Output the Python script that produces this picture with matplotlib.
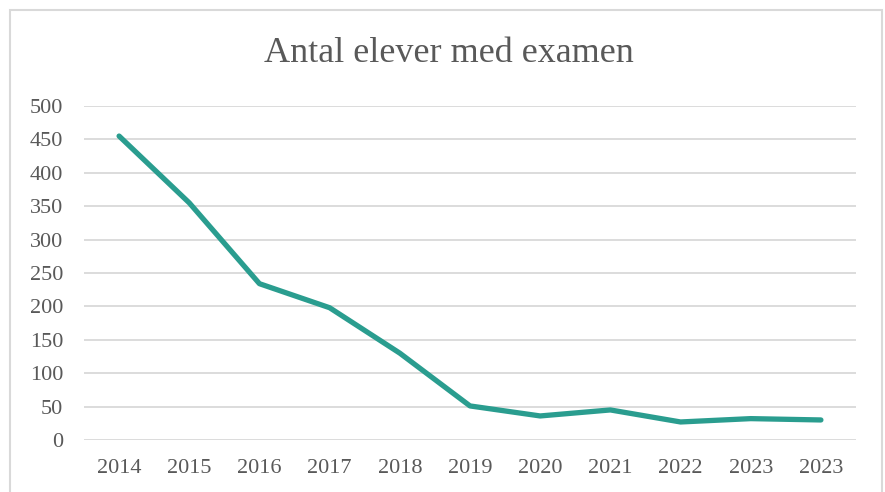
import matplotlib
matplotlib.use("Agg")
import matplotlib.pyplot as plt
from matplotlib.patches import Rectangle

# data
years = ["2014", "2015", "2016", "2017", "2018", "2019", "2020", "2021", "2022", "2023", "2023"]
elever = [455, 355, 234, 198, 130, 51, 36, 45, 27, 32, 30]
yticks = list(range(0, 501, 50))

plt.rcParams['font.family'] = ['Liberation Serif', 'DejaVu Serif']

fig = plt.figure(figsize=(8.85, 4.92), dpi=100)
ax = fig.add_axes([84/885, 1 - 440/492, (856 - 84)/885, (440 - 106)/492])

# outer chart border (bottom edge is cut off in the original)
fig.patches.append(Rectangle((10/885, -0.05), (882 - 10)/885, 1.05 - 10/492,
                             transform=fig.transFigure, fill=False,
                             edgecolor='#d9d9d9', linewidth=1.5))

x = list(range(len(years)))
ax.plot(x, elever, color='#2a9d8f', linewidth=3.8, solid_capstyle='round',
        solid_joinstyle='round', zorder=3)

ax.set_xlim(-0.5, len(years) - 0.5)
ax.set_ylim(0, 500)
ax.set_yticks(yticks)
ax.set_xticks(x)
ax.set_xticklabels(years)
ax.grid(axis='y', color='#d9d9d9', linewidth=1.3)
ax.set_axisbelow(True)
for s in ax.spines.values():
    s.set_visible(False)
ax.tick_params(axis='both', length=0, labelsize=16, labelcolor='#595959')
ax.tick_params(axis='y', pad=15)
ax.tick_params(axis='x', pad=14)

fig.text(449/885, 1 - 54/492, "Antal elever med examen", ha='center', va='center',
         fontsize=26, color='#595959')

fig.savefig("out.png", dpi=100)
